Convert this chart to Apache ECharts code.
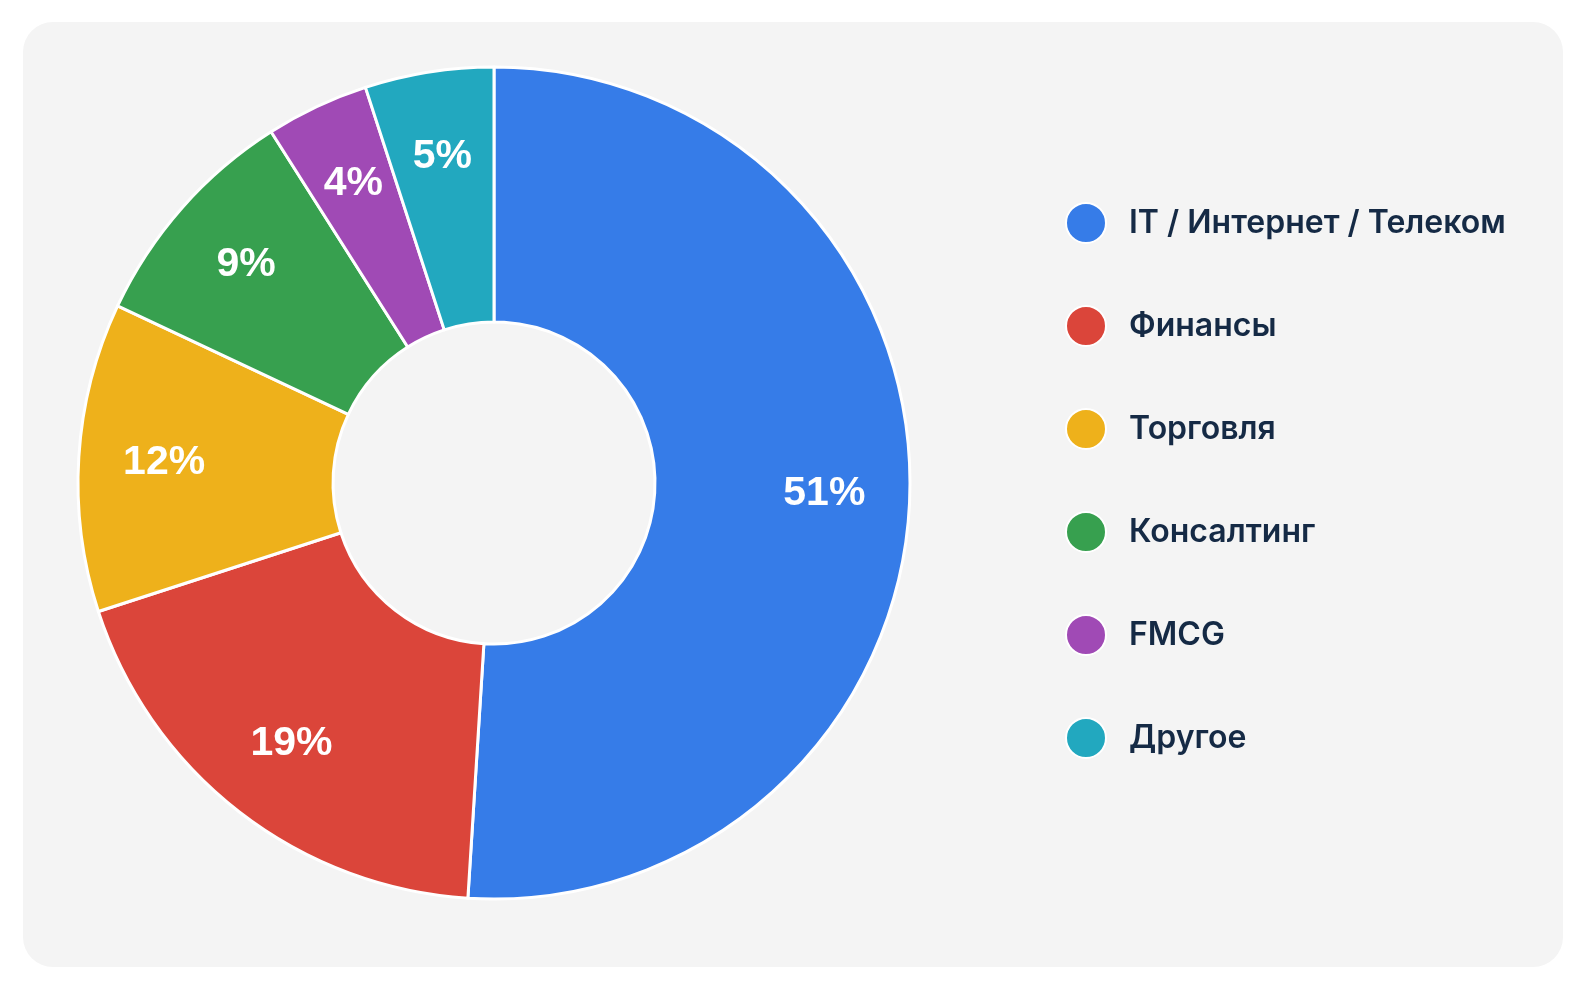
<!DOCTYPE html>
<html>
<head>
<meta charset="utf-8">
<script src="https://cdn.jsdelivr.net/npm/echarts@6/dist/echarts.min.js"></script>
<style>
  html, body { margin: 0; padding: 0; background: #ffffff; width: 1586px; height: 992px; overflow: hidden; }
  #card { position: absolute; left: 23px; top: 22px; width: 1540px; height: 945px; background: #f4f4f4; border-radius: 30px; }
  #chart { position: absolute; left: 0; top: 0; width: 1586px; height: 992px; }
</style>
</head>
<body>
<div id="card"></div>
<div id="chart"></div>
<script>
const categories = ['IT / Интернет / Телеком', 'Финансы', 'Торговля', 'Консалтинг', 'FMCG', 'Другое'];
const shares = [51, 19, 12, 9, 4, 5];
const colors = ['#367ce8', '#db453a', '#eeb11b', '#37a04f', '#a04ab5', '#22a8bf'];

const chart = echarts.init(document.getElementById('chart'), null, { renderer: 'canvas' });
const mainData = categories.map((name, i) => ({ name, value: shares[i], itemStyle: { color: colors[i] } }));
const labelData = categories.map((name, i) => ({ name, value: shares[i] }));

chart.setOption({
  backgroundColor: 'transparent',
  animation: false,
  legend: {
    orient: 'vertical',
    left: 1065,
    top: 202,
    padding: 0,
    icon: 'circle',
    itemWidth: 40,
    itemHeight: 40,
    itemGap: 61,
    data: categories,
    selectedMode: false,
    textStyle: {
      fontFamily: 'Inter, "Liberation Sans", sans-serif',
      fontWeight: 600,
      fontSize: 32,
      lineHeight: 40,
      color: '#152a45',
      padding: [0, 0, 0, 18]
    }
  },
  series: [
    {
      type: 'pie',
      center: [494, 483],
      radius: [161, 416],
      startAngle: 90,
      clockwise: true,
      silent: true,
      itemStyle: { borderColor: '#ffffff', borderWidth: 3 },
      label: { show: false },
      labelLine: { show: false },
      emphasis: { disabled: true },
      data: mainData
    },
    {
      type: 'pie',
      center: [494, 483],
      radius: [245, 410],
      startAngle: 90,
      clockwise: true,
      silent: true,
      itemStyle: { color: 'rgba(0,0,0,0)', borderWidth: 0 },
      label: {
        show: true,
        position: 'inside',
        formatter: p => p.value + '%',
        color: '#ffffff',
        fontFamily: '"Liberation Sans", Arial, sans-serif',
        fontWeight: 'bold',
        fontSize: 41
      },
      labelLine: { show: false },
      emphasis: { disabled: true },
      data: labelData
    }
  ]
});
</script>
</body>
</html>
